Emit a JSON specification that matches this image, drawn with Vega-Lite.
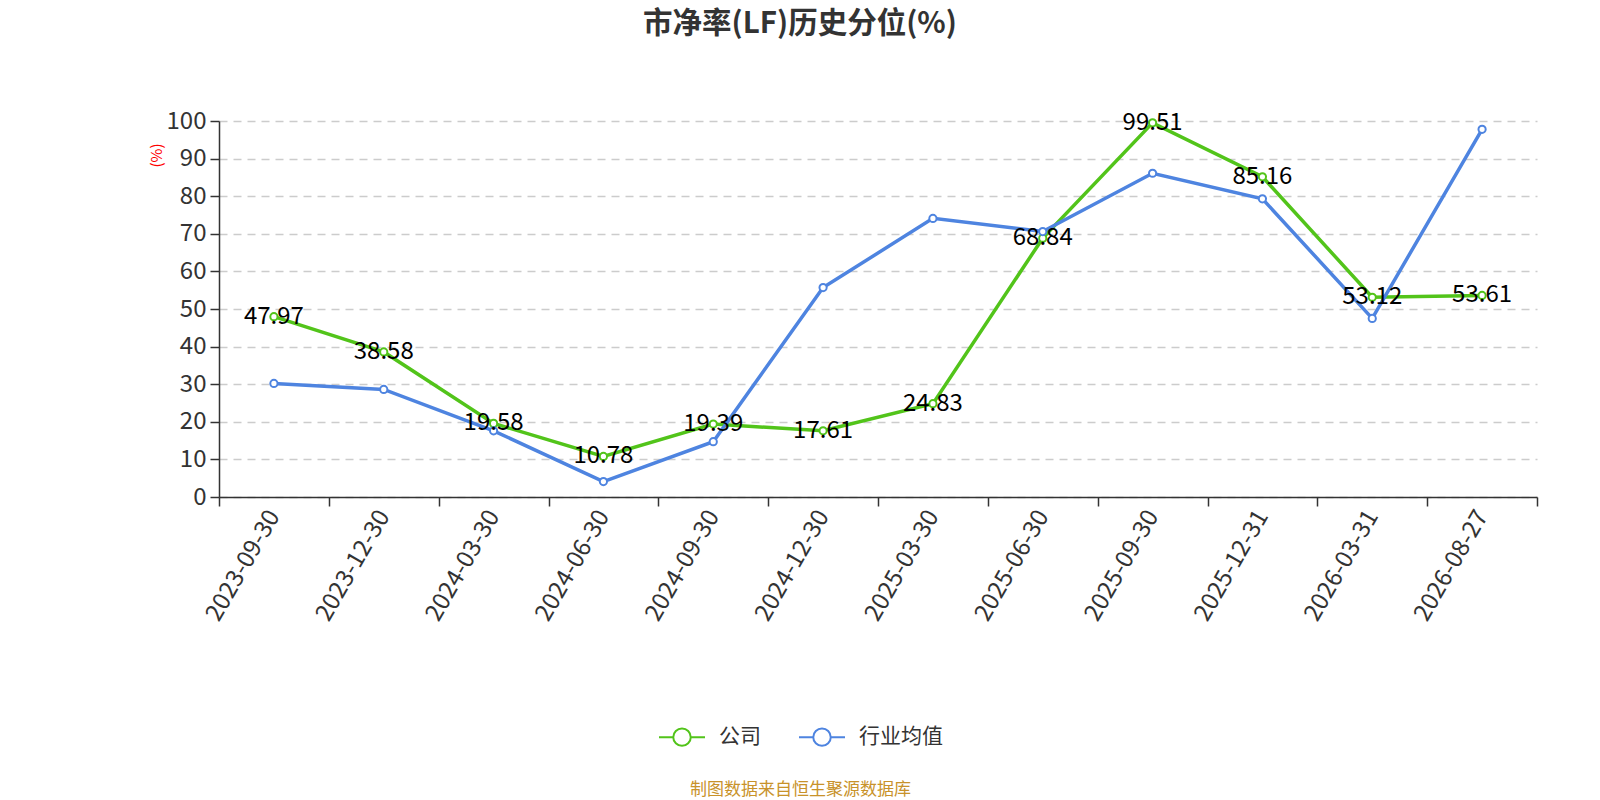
{
  "$schema": "https://vega.github.io/schema/vega-lite/v6.json",
  "width": 1318,
  "height": 376,
  "autosize": {"type": "none"},
  "padding": {"left": 219, "top": 121, "right": 63, "bottom": 303},
  "background": "white",
  "title": {
    "text": "市净率(LF)历史分位(%)",
    "fontSize": 29.5,
    "fontWeight": "bold",
    "color": "#333333",
    "anchor": "middle",
    "dx": -78,
    "offset": 70
  },
  "data": {
    "values": [
      {"date": "2023-09-30", "series": "公司", "value": 47.97},
      {"date": "2023-12-30", "series": "公司", "value": 38.58},
      {"date": "2024-03-30", "series": "公司", "value": 19.58},
      {"date": "2024-06-30", "series": "公司", "value": 10.78},
      {"date": "2024-09-30", "series": "公司", "value": 19.39},
      {"date": "2024-12-30", "series": "公司", "value": 17.61},
      {"date": "2025-03-30", "series": "公司", "value": 24.83},
      {"date": "2025-06-30", "series": "公司", "value": 68.84},
      {"date": "2025-09-30", "series": "公司", "value": 99.51},
      {"date": "2025-12-31", "series": "公司", "value": 85.16},
      {"date": "2026-03-31", "series": "公司", "value": 53.12},
      {"date": "2026-08-27", "series": "公司", "value": 53.61},
      {"date": "2023-09-30", "series": "行业均值", "value": 30.2},
      {"date": "2023-12-30", "series": "行业均值", "value": 28.6},
      {"date": "2024-03-30", "series": "行业均值", "value": 17.6},
      {"date": "2024-06-30", "series": "行业均值", "value": 4.1},
      {"date": "2024-09-30", "series": "行业均值", "value": 14.7},
      {"date": "2024-12-30", "series": "行业均值", "value": 55.7},
      {"date": "2025-03-30", "series": "行业均值", "value": 74.1},
      {"date": "2025-06-30", "series": "行业均值", "value": 70.6},
      {"date": "2025-09-30", "series": "行业均值", "value": 86.1},
      {"date": "2025-12-31", "series": "行业均值", "value": 79.3},
      {"date": "2026-03-31", "series": "行业均值", "value": 47.5},
      {"date": "2026-08-27", "series": "行业均值", "value": 97.8}
    ]
  },
  "encoding": {
    "x": {
      "field": "date",
      "type": "ordinal",
      "bandPosition": 0.5,
      "scale": {"type": "band", "paddingInner": 0, "paddingOuter": 0},
      "axis": {
        "tickBand": "extent",
        "labelAngle": -60,
        "labelAlign": "right",
        "labelBaseline": "middle",
        "labelFontSize": 24,
        "labelColor": "#333333",
        "labelPadding": 6,
        "tickSize": 9,
        "tickColor": "#333333",
        "tickWidth": 1.5,
        "domainColor": "#333333",
        "domainWidth": 1.5,
        "grid": false,
        "title": "制图数据来自恒生聚源数据库",
        "titleColor": "#c8922a",
        "titleFontSize": 17,
        "titleFontWeight": "normal",
        "titleX": 581,
        "titleY": 292,
        "titleAlign": "center",
        "titleBaseline": "middle"
      }
    },
    "y": {
      "field": "value",
      "type": "quantitative",
      "scale": {"domain": [0, 100], "nice": false},
      "axis": {
        "values": [0, 10, 20, 30, 40, 50, 60, 70, 80, 90, 100],
        "labelFontSize": 24,
        "labelColor": "#333333",
        "labelPadding": 4,
        "tickSize": 9,
        "tickColor": "#333333",
        "tickWidth": 1.5,
        "domain": true,
        "domainColor": "#333333",
        "domainWidth": 1.5,
        "grid": true,
        "gridColor": "#cccccc",
        "gridDash": [8, 6],
        "gridWidth": 1.5,
        "title": "(%)",
        "titleColor": "#ff0000",
        "titleFontSize": 15,
        "titleFontWeight": "normal",
        "titleAngle": -90,
        "titleX": -63,
        "titleY": 34,
        "titleAlign": "center",
        "titleBaseline": "middle"
      }
    },
    "color": {
      "field": "series",
      "type": "nominal",
      "scale": {"domain": ["公司", "行业均值"], "range": ["#52c41a", "#4e84e0"]},
      "legend": {
        "title": null,
        "orient": "none",
        "direction": "horizontal",
        "legendX": 439,
        "legendY": 592,
        "symbolType": "M-1,0H-0.38M0.38,0H1M-0.38,0A0.38,0.38 0 1 0 0.38,0A0.38,0.38 0 1 0 -0.38,0",
        "symbolSize": 2116,
        "symbolStrokeWidth": 2,
        "symbolFillColor": "#ffffff",
        "labelFontSize": 21,
        "labelColor": "#333333",
        "labelOffset": 13,
        "columnPadding": 34
      }
    }
  },
  "layer": [
    {
      "mark": {"type": "line", "strokeWidth": 3.5}
    },
    {
      "mark": {"type": "point", "filled": false, "fill": "white", "fillOpacity": 1, "strokeWidth": 2, "opacity": 1, "size": 52}
    },
    {
      "transform": [{"filter": "datum.series == '公司'"}],
      "mark": {"type": "text", "fontSize": 24, "color": "#000000", "baseline": "middle", "align": "center"},
      "encoding": {"color": {"value": "#000000"}, "text": {"field": "value", "type": "quantitative", "format": ".2f"}}
    }
  ],
  "config": {
    "font": "Noto Sans CJK SC",
    "view": {"stroke": null}
  }
}
